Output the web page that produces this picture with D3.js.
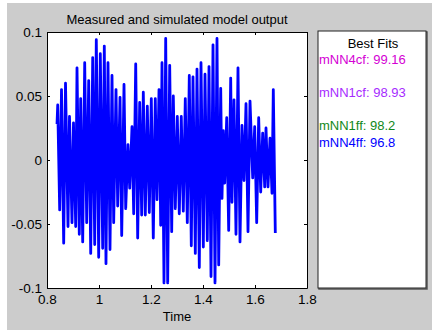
<!DOCTYPE html>
<html>
<head>
<meta charset="utf-8">
<script src="https://cdn.jsdelivr.net/npm/d3@7"></script>
<style>
  body { margin: 0; background: #fff; }
  svg text { font-family: "Liberation Sans", Arial, sans-serif; }
</style>
</head>
<body>
<div id="chart"></div>
<script>
// signal: peak / trough turning points
const time = [
  0.8385, 0.8412, 0.8488, 0.8558, 0.8642, 0.8712, 0.8808, 0.8865, 0.8962, 0.9019,
  0.9104, 0.9154, 0.9242, 0.9296, 0.9373, 0.9450, 0.9527, 0.9604, 0.9681, 0.9758,
  0.9835, 0.9896, 0.9988, 1.0050, 1.0142, 1.0204, 1.0269, 1.0346, 1.0423, 1.0500,
  1.0565, 1.0654, 1.0719, 1.0808, 1.0873, 1.0962, 1.1027, 1.1115, 1.1181, 1.1269,
  1.1335, 1.1412, 1.1488, 1.1565, 1.1642, 1.1704, 1.1781, 1.1858, 1.1935, 1.2012,
  1.2088, 1.2165, 1.2231, 1.2308, 1.2373, 1.2423, 1.2500, 1.2565, 1.2642, 1.2719,
  1.2796, 1.2858, 1.2935, 1.3012, 1.3088, 1.3165, 1.3242, 1.3319, 1.3396, 1.3473,
  1.3550, 1.3615, 1.3704, 1.3769, 1.3858, 1.3923, 1.4012, 1.4077, 1.4165, 1.4231,
  1.4308, 1.4385, 1.4462, 1.4538, 1.4604, 1.4681, 1.4731, 1.4781, 1.4835, 1.4912,
  1.4988, 1.5065, 1.5115, 1.5192, 1.5269, 1.5346, 1.5423, 1.5500, 1.5577, 1.5654,
  1.5731, 1.5808, 1.5912, 1.5988, 1.6065, 1.6142, 1.6219, 1.6296, 1.6373, 1.6423,
  1.6500, 1.6577, 1.6654, 1.6704, 1.6781
];
const output = [
  0.028, 0.043, -0.039, 0.055, -0.065, 0.060, -0.052, 0.034, -0.049, 0.029,
  -0.052, 0.072, -0.058, 0.048, -0.064, 0.076, -0.049, 0.062, -0.073, 0.080,
  -0.066, 0.094, -0.076, 0.083, -0.069, 0.089, -0.081, 0.076, -0.070, 0.066,
  -0.049, 0.055, -0.036, 0.049, -0.059, 0.059, -0.038, 0.012, -0.022, 0.026,
  -0.042, 0.075, -0.061, 0.045, -0.043, 0.053, -0.043, 0.042, -0.041, 0.048,
  -0.061, 0.048, -0.031, 0.055, -0.051, 0.076, -0.096, 0.095, -0.096, 0.074,
  -0.056, 0.050, -0.038, 0.034, -0.042, 0.034, -0.040, 0.048, -0.049, 0.066,
  -0.067, 0.065, -0.073, 0.071, -0.084, 0.076, -0.068, 0.067, -0.063, 0.073,
  -0.091, 0.090, -0.096, 0.095, -0.082, 0.056, -0.030, 0.023, -0.018, 0.033,
  -0.055, 0.064, -0.033, 0.047, -0.058, 0.072, -0.064, 0.027, -0.016, 0.044,
  -0.056, 0.046, -0.014, 0.026, -0.049, 0.033, -0.025, 0.021, -0.021, 0.025,
  -0.021, 0.017, -0.026, 0.055, -0.057
];

const xTicks = [0.8, 1, 1.2, 1.4, 1.6, 1.8];
const yTicks = [-0.1, -0.05, 0, 0.05, 0.1];

const fitNames = ['mNN4cf', 'mNN1cf', 'mNN1ff', 'mNN4ff'];
const fitValues = ['99.16', '98.93', '98.2', '96.8'];
const fitColors = ['#d400d4', '#a62bff', '#11881a', '#0000ff'];
const fitRows = [0, 2, 4, 5]; // line slot in the legend box

const W = 435, H = 330;
const m = {left: 47, right: 128, top: 32, bottom: 42};

const svg = d3.select('#chart').append('svg')
  .attr('width', W)
  .attr('height', H);

svg.append('rect')
  .attr('x', 7).attr('y', 3)
  .attr('width', 425).attr('height', 327)
  .attr('fill', '#cccccc');

const x = d3.scaleLinear().domain([0.8, 1.8]).range([m.left, W - m.right]);
const y = d3.scaleLinear().domain([-0.1, 0.1]).range([H - m.bottom, m.top]);

svg.append('rect')
  .attr('x', x(0.8)).attr('y', y(0.1))
  .attr('width', x(1.8) - x(0.8)).attr('height', y(-0.1) - y(0.1))
  .attr('fill', '#fff');

// signal
const pts = time.map((t, i) => [t, output[i]]);
svg.append('path')
  .datum(pts)
  .attr('fill', 'none')
  .attr('stroke', '#0000ff')
  .attr('stroke-width', 2.8)
  .attr('stroke-linejoin', 'round')
  .attr('d', d3.line().x(d => x(d[0])).y(d => y(d[1])));

// axes, ticks inward, boxed
const fmt = d => String(d);
const axB = svg.append('g').attr('transform', `translate(0,${y(-0.1)})`)
  .call(d3.axisBottom(x).tickValues(xTicks).tickFormat(fmt).tickSizeInner(-3).tickSizeOuter(0).tickPadding(6));
const axT = svg.append('g').attr('transform', `translate(0,${y(0.1)})`)
  .call(d3.axisTop(x).tickValues(xTicks).tickFormat('').tickSizeInner(-3).tickSizeOuter(0));
const axL = svg.append('g').attr('transform', `translate(${x(0.8)},0)`)
  .call(d3.axisLeft(y).tickValues(yTicks).tickFormat(fmt).tickSizeInner(-3).tickSizeOuter(0).tickPadding(5));
const axR = svg.append('g').attr('transform', `translate(${x(1.8)},0)`)
  .call(d3.axisRight(y).tickValues(yTicks).tickFormat('').tickSizeInner(-3).tickSizeOuter(0));

[axB, axT, axL, axR].forEach(a => {
  a.select('.domain').attr('stroke', '#000');
  a.selectAll('.tick line').attr('stroke', '#000');
  a.selectAll('text').attr('font-size', 13.5).attr('fill', '#000')
    .style('font-family', '"Liberation Sans", Arial, sans-serif');
});

svg.append('text')
  .attr('x', (x(0.8) + x(1.8)) / 2).attr('y', 24)
  .attr('text-anchor', 'middle').attr('font-size', 13)
  .text('Measured and simulated model output');

svg.append('text')
  .attr('x', (x(0.8) + x(1.8)) / 2).attr('y', 321)
  .attr('text-anchor', 'middle').attr('font-size', 13)
  .text('Time');

// legend box
const lg = {x: 318, y: 31, w: 108, h: 257};
svg.append('rect')
  .attr('x', lg.x + 1).attr('y', lg.y + 1)
  .attr('width', lg.w).attr('height', lg.h)
  .attr('fill', 'none').attr('stroke', '#555').attr('stroke-width', 1.5);
svg.append('rect')
  .attr('x', lg.x).attr('y', lg.y)
  .attr('width', lg.w).attr('height', lg.h)
  .attr('fill', '#fff').attr('stroke', '#222').attr('stroke-width', 1);

svg.append('text')
  .attr('x', lg.x + lg.w / 2 + 1).attr('y', 48)
  .attr('text-anchor', 'middle').attr('font-size', 13)
  .text('Best Fits');

const rowY = d3.scaleLinear().domain([0, 1]).range([64, 80.5]);
svg.selectAll('text.fit')
  .data(fitNames)
  .join('text')
  .attr('class', 'fit')
  .attr('x', lg.x + 1)
  .attr('y', (d, i) => rowY(fitRows[i]))
  .attr('font-size', 13)
  .attr('fill', (d, i) => fitColors[i])
  .text((d, i) => `${d}: ${fitValues[i]}`);
</script>
</body>
</html>
